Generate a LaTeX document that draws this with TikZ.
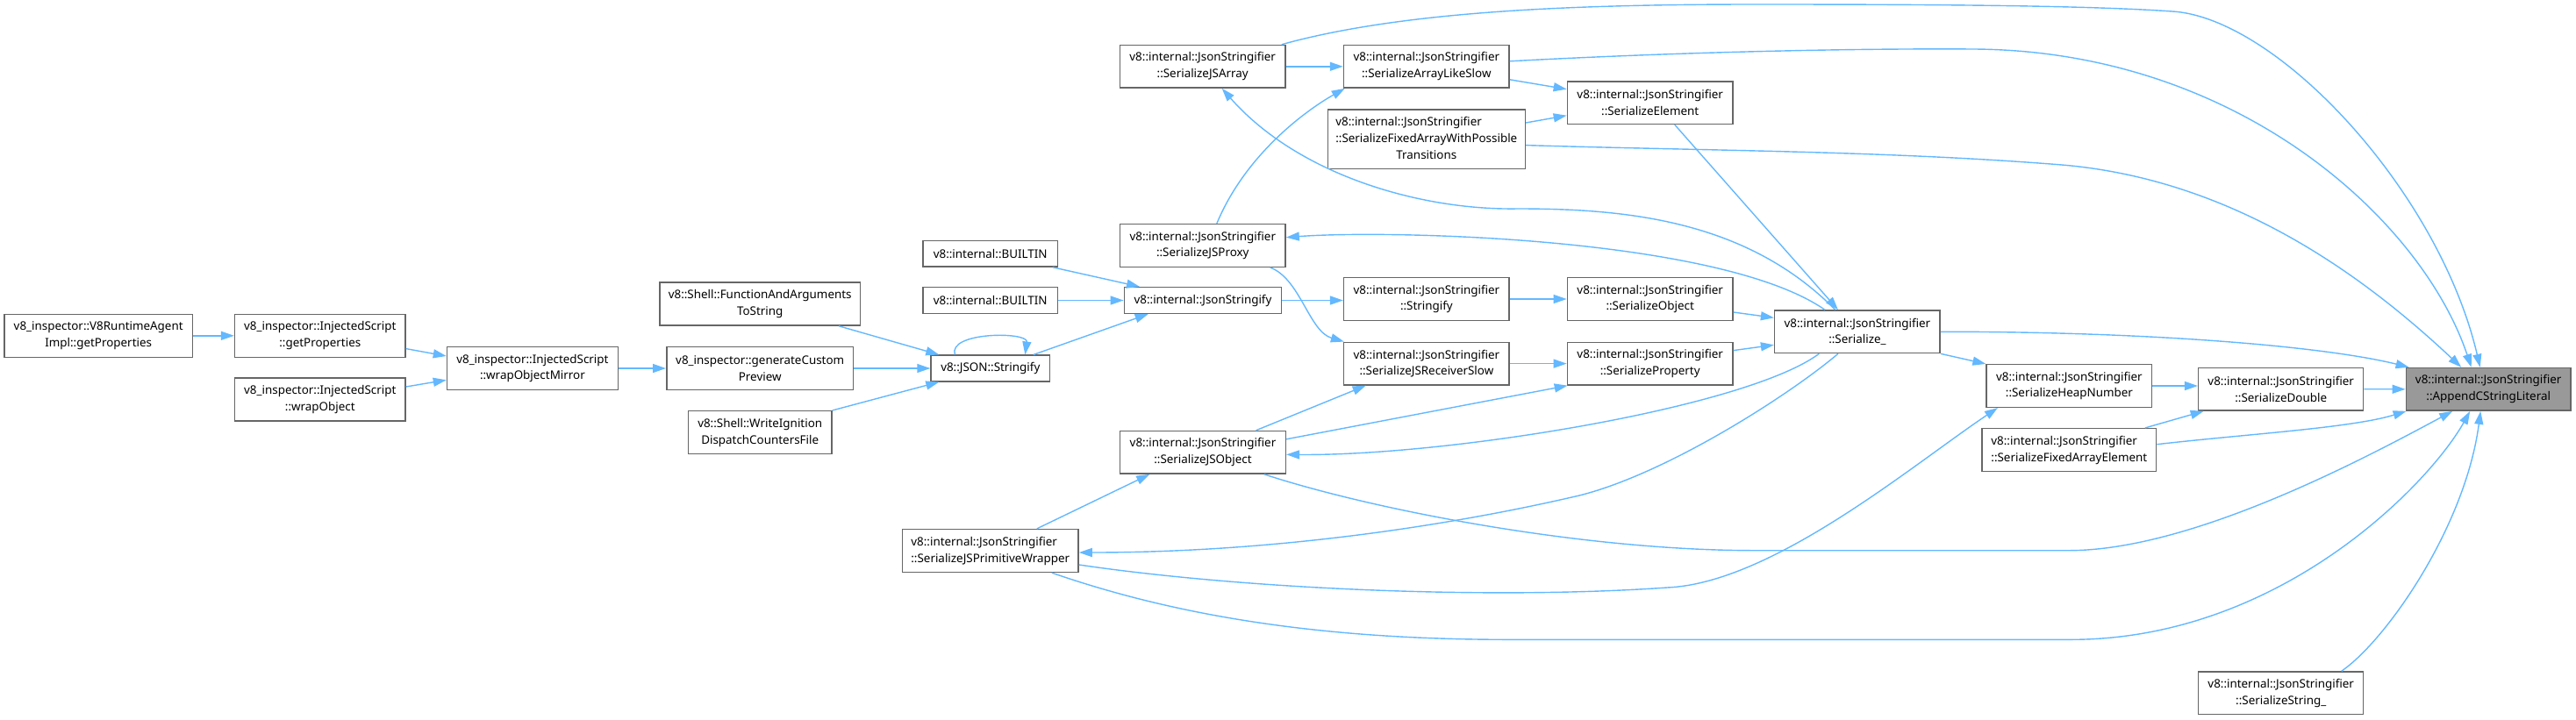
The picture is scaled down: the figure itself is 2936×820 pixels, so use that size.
\documentclass[tikz,border=0pt]{standalone}
\usepackage{fontspec}
\setmainfont{Noto Sans}
\usetikzlibrary{arrows.meta}
\definecolor{edgeblue}{HTML}{63B8FF}
\definecolor{boxgray}{HTML}{666666}
\definecolor{hlgray}{HTML}{999999}
\newcommand{\nodefont}{\fontsize{13.4pt}{18.7pt}\selectfont}
\newcommand{\twoleft}[2]{\begin{tabular}{@{}l@{}}#1\\#2\end{tabular}}
\begin{document}
\begin{tikzpicture}[x=1pt,y=-1pt,
  box/.style={draw=boxgray, line width=1.5pt, fill=white, inner sep=0pt, align=center, font=\nodefont, text=black},
  hl/.style={box, fill=hlgray},
  two/.style={minimum width=188.6pt, minimum height=48.6pt},
  one/.style={minimum height=29.6pt},
  edge/.style={draw=edgeblue, line width=1.4pt, -{Triangle[length=15pt,width=10pt]}}]
\useasboundingbox (0,0) rectangle (2936,820);

% nodes
\node[box, minimum width=214.8pt, minimum height=49pt] (rta) at (112.2,382.8) {v8\_inspector::V8RuntimeAgent\\Impl::getProperties};
\node[box, minimum width=194.4pt, minimum height=49pt] (isgp) at (364.8,382.8) {v8\_inspector::InjectedScript\\::getProperties};
\node[box, minimum width=194.4pt, minimum height=49pt] (iswo) at (364.8,455.5) {v8\_inspector::InjectedScript\\::wrapObject};
\node[box, minimum width=194.8pt, minimum height=48.6pt] (iswom) at (606.9,420) {v8\_inspector::InjectedScript\\::wrapObjectMirror};
\node[box, minimum width=212.9pt, minimum height=48.6pt] (gcp) at (866.2,420) {v8\_inspector::generateCustom\\Preview};
\node[box, minimum width=228.9pt, minimum height=49pt] (fats) at (866.2,346.5) {v8::Shell::FunctionAndArguments\\ToString};
\node[box, minimum width=163.6pt, minimum height=49pt] (widc) at (866.2,493.2) {v8::Shell::WriteIgnition\\DispatchCountersFile};
\node[box, one, minimum width=135.5pt] (jsons) at (1128.8,420) {v8::JSON::Stringify};
\node[box, one, minimum width=153.3pt] (b1) at (1128.7,289.2) {v8::internal::BUILTIN};
\node[box, one, minimum width=153.3pt] (b2) at (1128.7,342.5) {v8::internal::BUILTIN};
\node[box, one, minimum width=179.3pt] (jsf) at (1371,342.5) {v8::internal::JsonStringify};
\node[box, two] (proxy) at (1370.8,280) {v8::internal::JsonStringifier\\::SerializeJSProxy};
\node[box, two] (jsarr) at (1370.7,75.8) {v8::internal::JsonStringifier\\::SerializeJSArray};
\node[box, two] (als) at (1625.8,75.8) {v8::internal::JsonStringifier\\::SerializeArrayLikeSlow};
\node[box, minimum width=225.1pt, minimum height=67.7pt] (fawpt) at (1625.8,158.6) {\begin{tabular}{@{}l@{}}v8::internal::JsonStringifier\\::SerializeFixedArrayWithPossible\\\multicolumn{1}{@{}c@{}}{Transitions}\end{tabular}};
\node[box, two] (elem) at (1880.7,117.1) {v8::internal::JsonStringifier\\::SerializeElement};
\node[box, two] (strfy) at (1625.9,341) {v8::internal::JsonStringifier\\::Stringify};
\node[box, two] (sobj) at (1880.7,341) {v8::internal::JsonStringifier\\::SerializeObject};
\node[box, two] (rslow) at (1625.9,414.6) {v8::internal::JsonStringifier\\::SerializeJSReceiverSlow};
\node[box, two] (sprop) at (1880.7,414.6) {v8::internal::JsonStringifier\\::SerializeProperty};
\node[box, two] (ser) at (2116.9,378.3) {v8::internal::JsonStringifier\\::Serialize\_};
\node[box, two] (jsobj) at (1371,515.8) {v8::internal::JsonStringifier\\::SerializeJSObject};
\node[box, minimum width=200.4pt, minimum height=48.8pt] (wrap) at (1128.8,628) {\twoleft{v8::internal::JsonStringifier}{::SerializeJSPrimitiveWrapper}};
\node[box, two] (heap) at (2358.4,440) {v8::internal::JsonStringifier\\::SerializeHeapNumber};
\node[box, minimum width=198.5pt, minimum height=48.8pt] (faelem) at (2358.3,513.1) {\twoleft{v8::internal::JsonStringifier}{::SerializeFixedArrayElement}};
\node[box, two, minimum width=188pt] (dbl) at (2599.7,443.7) {v8::internal::JsonStringifier\\::SerializeDouble};
\node[hl, two, minimum width=187.7pt] (app) at (2836.2,443.8) {v8::internal::JsonStringifier\\::AppendCStringLiteral};
\node[box, two, minimum width=188pt] (sstr) at (2599.7,790.3) {v8::internal::JsonStringifier\\::SerializeString\_};

% edges
\draw[edge] (rta.east) -- (isgp.west);
\draw[edge] ([yshift=-14.8pt]isgp.east) -- ([yshift=14pt]iswom.west);
\draw[edge] ([yshift=14.5pt]iswo.east) -- ([yshift=-13.3pt]iswom.west);
\draw[edge] (iswom.east) -- (gcp.west);
\draw[edge] ([xshift=89.8pt]fats.south) -- ([xshift=-58.5pt]jsons.north);
\draw[edge] (gcp.east) -- (jsons.west);
\draw[edge] (widc.north east) -- ([xshift=-58.5pt]jsons.south);
\draw[edge] ([xshift=-40.5pt]jsons.north) .. controls (1080,378) and (1172,378) .. ([xshift=39.5pt]jsons.north);
\draw[edge] ([xshift=49pt]jsons.north) -- ([xshift=-62.3pt]jsf.south);
\draw[edge] ([xshift=71pt]b1.south) -- ([xshift=-72pt]jsf.north);
\draw[edge] (b2.east) -- (jsf.west);
\draw[edge] (jsf.east) -- (jsf.east -| strfy.west);
\draw[edge] ([xshift=77pt]proxy.south) .. controls (1482,318) and (1492,378) .. ([xshift=1pt]rslow.north west);
\draw[edge] ([xshift=16pt]proxy.north) .. controls (1420,175) and (1490,125) .. ([xshift=2pt]als.south west);
\draw[edge] (jsarr.east) -- (als.west);
\draw[edge] ([yshift=-15pt]als.east) -- ([yshift=15.4pt]elem.west);
\draw[edge] ([yshift=18.6pt]fawpt.east) -- ([yshift=-14.6pt]elem.west);
\draw[edge] (strfy.east) -- (sobj.west);
\draw[edge] ([yshift=-15pt]sobj.east) -- ([yshift=16pt]ser.west);
\draw[edge] (rslow.east) -- (sprop.west);
\draw[edge] ([yshift=15pt]sprop.east) -- ([yshift=-15pt]ser.west);
\draw[edge] ([xshift=28pt]elem.south) -- ([xshift=-22pt]ser.north);
\draw[edge] ([xshift=-25.2pt]ser.north) .. controls (1990,250) and (1850,238) .. (1730,238) .. controls (1620,240) and (1480,200) .. ([xshift=22pt]jsarr.south);
\draw[edge] ([xshift=-37pt]ser.north) .. controls (1960,270) and (1580,262) .. ([yshift=9.3pt]proxy.east);
\draw[edge] ([xshift=-43.6pt]ser.south) .. controls (1990,465) and (1650,520) .. ([yshift=-2.5pt]jsobj.east);
\draw[edge] ([xshift=60.5pt]jsobj.north) -- ([xshift=-69.2pt]rslow.south);
\draw[edge] ([yshift=15pt]jsobj.east) -- ([xshift=1pt]sprop.south west);
\draw[edge] ([xshift=53pt]wrap.north) -- ([xshift=-60.8pt]jsobj.south);
\draw[edge] ([xshift=-22pt]ser.south) .. controls (2040,450) and (1900,540) .. (1800,565) .. controls (1650,600) and (1450,630) .. ([yshift=-2pt]wrap.east);
\draw[edge] (ser.south east) -- (heap.north west);
\draw[edge] ([yshift=-16pt]wrap.east) .. controls (1420,672) and (1700,684) .. (1900,670) .. controls (2020,665) and (2180,530) .. ([xshift=-81.5pt]heap.south);
\draw[edge] (heap.east) -- (heap.east -| dbl.west);
\draw[edge] ([xshift=86.5pt]faelem.north) -- ([xshift=-88pt]dbl.south);
\draw[edge] (dbl.east) -- (app.west);
\draw[edge] ([yshift=6.4pt]faelem.east) .. controls (2560,495) and (2680,488) .. ([xshift=1pt]app.south west);
\draw[edge] (ser.east) .. controls (2450,378) and (2650,395) .. ([xshift=4pt]app.north west);
\draw[edge] ([xshift=69pt]sstr.north) .. controls (2720,730) and (2810,600) .. ([xshift=-9pt]app.south);
\draw[edge] ([xshift=70pt]wrap.south) .. controls (1320,695) and (1480,729.3) .. (1720,729.3) -- (2360,729.3) .. controls (2600,729.3) and (2770,550) .. ([xshift=-21pt]app.south);
\draw[edge] ([xshift=70pt]jsobj.south) .. controls (1560,580) and (1800,627.7) .. (2000,627.7) -- (2358,627.7) .. controls (2500,627.7) and (2700,520) .. ([xshift=-41pt]app.south);
\draw[edge] ([xshift=-5pt]jsarr.north east) .. controls (1600,12) and (1800,5) .. (2000,5) .. controls (2200,5) and (2380,6) .. (2480,13.3) .. controls (2600,25) and (2780,220) .. ([xshift=-9.5pt]app.north);
\draw[edge] ([yshift=6pt]als.east) .. controls (1900,60) and (2100,55) .. (2250,56) .. controls (2550,58) and (2760,250) .. ([xshift=-19.5pt]app.north);
\draw[edge] ([yshift=-7pt]fawpt.east) .. controls (1950,172) and (2150,172) .. (2350,188) .. controls (2550,205) and (2700,320) .. ([xshift=-31pt]app.north);
\end{tikzpicture}
\end{document}
